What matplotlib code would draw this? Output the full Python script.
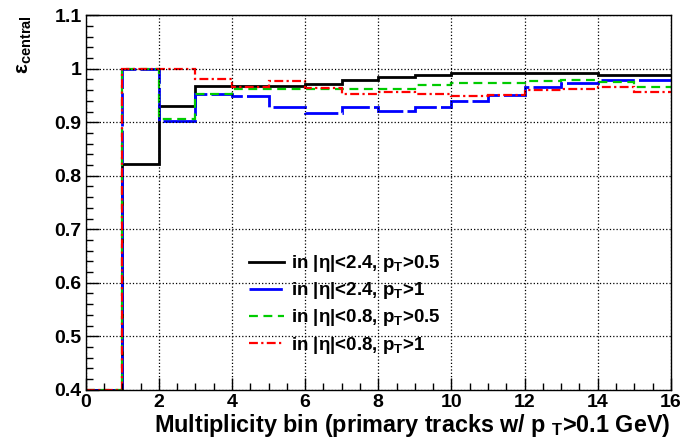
import matplotlib
matplotlib.use('Agg')
import matplotlib.pyplot as plt
import numpy as np
from matplotlib.ticker import MultipleLocator

plt.rcParams['font.family'] = ['Liberation Sans', 'DejaVu Sans']
plt.rcParams['font.weight'] = 'bold'
plt.rcParams['axes.labelweight'] = 'bold'
plt.rcParams['mathtext.fontset'] = 'custom'
plt.rcParams['mathtext.rm'] = 'Liberation Sans:bold'
plt.rcParams['mathtext.bf'] = 'Liberation Sans:bold'
plt.rcParams['mathtext.it'] = 'Liberation Sans:bold'

# bin edges: multiplicity bins 0..16
edges = np.arange(0, 17)

# efficiencies per bin (bin 0 sits at the axis minimum in the original)
eta24_pt05 = [0.4, 0.821, 0.931, 0.968, 0.967, 0.967, 0.972, 0.978,
              0.985, 0.989, 0.992, 0.992, 0.992, 0.992, 0.989, 0.989]
eta24_pt1 = [0.4, 1.0, 0.903, 0.952, 0.949, 0.928, 0.917, 0.928,
             0.921, 0.928, 0.940, 0.951, 0.966, 0.974, 0.979, 0.979]
eta08_pt05 = [0.4, 1.0, 0.906, 0.952, 0.962, 0.962, 0.962, 0.962,
              0.962, 0.969, 0.973, 0.974, 0.977, 0.978, 0.975, 0.966]
eta08_pt1 = [0.4, 1.0, 1.0, 0.980, 0.965, 0.977, 0.963, 0.952,
             0.957, 0.952, 0.949, 0.950, 0.960, 0.962, 0.965, 0.957]

labels = [r'in |η|<2.4, p$_\mathrm{T}$>0.5',
          r'in |η|<2.4, p$_\mathrm{T}$>1',
          r'in |η|<0.8, p$_\mathrm{T}$>0.5',
          r'in |η|<0.8, p$_\mathrm{T}$>1']

fig = plt.figure(figsize=(6.81, 4.46), dpi=100)
ax = fig.add_axes([0.126, 0.126, 0.859, 0.84])

ax.stairs(eta24_pt05, edges, baseline=None, color='black', lw=2.0,
          label=labels[0])
ax.stairs(eta24_pt1, edges, baseline=None, color='#0000ff', lw=2.0,
          linestyle=(0, (12, 1.5)), label=labels[1])
ax.stairs(eta08_pt05, edges, baseline=None, color='#00cc00', lw=1.6,
          linestyle=(0, (4, 2.5)), label=labels[2])
ax.stairs(eta08_pt1, edges, baseline=None, color='#ff0000', lw=1.6,
          linestyle=(0, (4, 1.5, 1, 1.5)), label=labels[3])

ax.set_xlim(0, 16)
ax.set_ylim(0.4, 1.1)
ax.xaxis.set_major_locator(MultipleLocator(2))
ax.xaxis.set_minor_locator(MultipleLocator(0.5))
ax.yaxis.set_major_locator(MultipleLocator(0.1))
ax.yaxis.set_minor_locator(MultipleLocator(0.02))
ax.set_yticks(np.arange(0.4, 1.11, 0.1))
ax.set_yticklabels(['0.4', '0.5', '0.6', '0.7', '0.8', '0.9', '1', '1.1'])
ax.tick_params(which='both', direction='in', top=False, right=False,
               labelsize=14, width=1)
ax.tick_params(which='major', length=9, pad=3)
ax.tick_params(which='minor', length=5)
for lab in ax.get_xticklabels() + ax.get_yticklabels():
    lab.set_fontweight('bold')
ax.grid(True, which='major', linestyle=':', color='black', lw=0.9)

ax.set_xlabel(r'Multiplicity bin (primary tracks w/ p $_\mathrm{T}$>0.1 GeV)',
              loc='right', fontsize=16.8, fontweight='bold', labelpad=1)
ax.set_ylabel(r'ε$_\mathrm{central}$', loc='top', fontsize=15,
              fontweight='bold', labelpad=15)

for s in ax.spines.values():
    s.set_linewidth(1.0)

leg = ax.legend(loc='upper left', bbox_to_anchor=(0.25, 0.41), frameon=False,
                fontsize=13.5, handlelength=1.85, handletextpad=0.4,
                labelspacing=0.33)
for t in leg.get_texts():
    t.set_fontweight('bold')

fig.savefig('out.png', dpi=100)
